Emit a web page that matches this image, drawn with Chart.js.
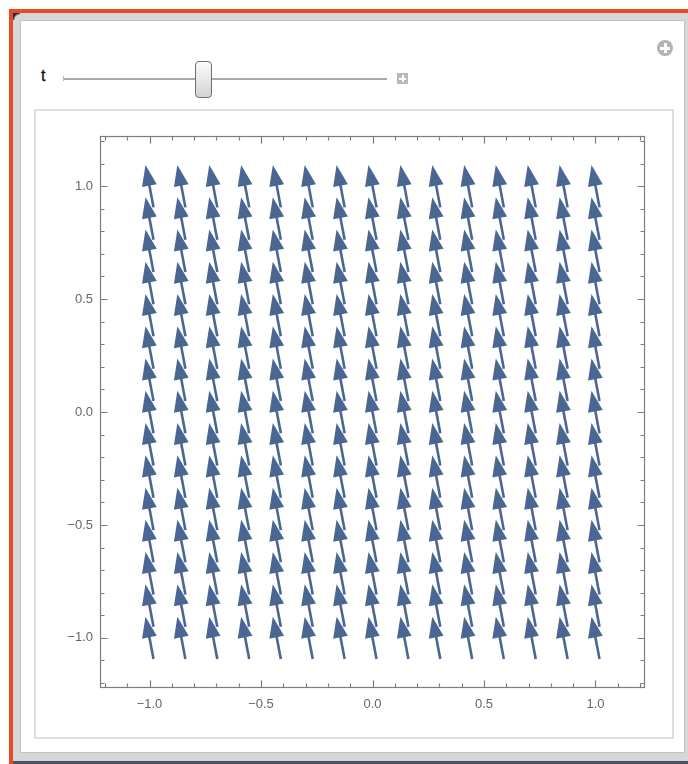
<!DOCTYPE html>
<html>
<head>
<meta charset="utf-8">
<script src="https://cdn.jsdelivr.net/npm/chart.js@4/dist/chart.umd.min.js"></script>
<style>
html,body{margin:0;padding:0;background:#fff;width:688px;height:764px;overflow:hidden;position:relative;font-family:'Liberation Sans',Arial,sans-serif}
.abs{position:absolute;box-sizing:border-box}
#orange{left:9px;top:9px;width:679px;height:755px;background:#e64a26}
#frame{left:13px;top:13px;width:675px;height:748px;background:#d7d7d7}
#darkb{left:13px;top:761px;width:675px;height:3px;background:#4d5260}
#corner{left:13px;top:13px;width:7px;height:7px;background:radial-gradient(circle at 100% 100%, rgba(0,0,0,0) 5px, #1d2b4c 7px)}
#content{left:20px;top:20px;width:665px;height:733px;background:#fff;border:1.5px solid #c3c3c3}
#panel{left:34px;top:109px;width:640px;height:630px;border:2px solid #dedede;background:#fff}
#tlabel{left:41px;top:66px;font-size:16px;color:#111;line-height:20px;-webkit-text-stroke:0.3px #111}
#track{left:63px;top:78px;width:324px;height:2px;background:#a9a9a9}
#capL{left:63px;top:76px;width:1px;height:5px;background:#b8b8b8}
#thumb{left:195px;top:61px;width:17px;height:37px;border:1.3px solid #6f6f6f;border-radius:4px;background:linear-gradient(#fbfbfb,#e6e6e6 55%,#d2d2d2)}
#plusbox{left:397px;top:73px;width:11px;height:11px;background:#b9b9b9}
#circ{left:657px;top:40px;width:16px;height:16px;border-radius:50%;background:#b3b3b3}
.pl{position:absolute;background:#fff}
#cv{position:absolute;left:35px;top:110px}
</style>
</head>
<body>
<div id="orange" class="abs"></div>
<div id="frame" class="abs"></div>
<div id="darkb" class="abs"></div>
<div id="corner" class="abs"></div>
<div id="content" class="abs"></div>
<div id="panel" class="abs"></div>
<div id="tlabel" class="abs">t</div>
<div id="track" class="abs"></div>
<div id="capL" class="abs"></div>
<div id="thumb" class="abs"></div>
<div id="plusbox" class="abs"><div class="pl" style="left:2px;top:4.5px;width:7px;height:2px"></div><div class="pl" style="left:4.5px;top:2px;width:2px;height:7px"></div></div>
<div id="circ" class="abs"><div class="pl" style="left:3px;top:6.5px;width:10px;height:3px"></div><div class="pl" style="left:6.5px;top:3px;width:3px;height:10px"></div></div>
<canvas id="cv" width="638" height="628" style="width:638px;height:628px"></canvas>
<script>
// ---- data ----
const gridX = [-1, -0.857, -0.714, -0.571, -0.429, -0.286, -0.143, 0, 0.143, 0.286, 0.429, 0.571, 0.714, 0.857, 1];
const gridY = [-1, -0.857, -0.714, -0.571, -0.429, -0.286, -0.143, 0, 0.143, 0.286, 0.429, 0.571, 0.714, 0.857, 1];
const vectorU = -0.036;   // arrow x-component (plot units)
const vectorV = 0.188;    // arrow y-component (plot units)
const majorTicks = [-1, -0.5, 0, 0.5, 1];
const minorTicks = [-1.2, -1.1, -0.9, -0.8, -0.7, -0.6, -0.4, -0.3, -0.2, -0.1, 0.1, 0.2, 0.3, 0.4, 0.6, 0.7, 0.8, 0.9, 1.1, 1.2];
const axisMin = -1.222, axisMax = 1.222;

const points = [];
gridY.forEach(y => gridX.forEach(x => points.push({x: x, y: y, u: vectorU, v: vectorV})));

const ARROW = '#4a6794';
const FRAME = '#7d7d7d';

const arrowPlugin = {
  id: 'arrows',
  afterDatasetsDraw(chart) {
    const ctx = chart.ctx, xs = chart.scales.x, ys = chart.scales.y;
    ctx.save();
    ctx.fillStyle = ARROW; ctx.strokeStyle = ARROW; ctx.lineCap = 'butt';
    chart.data.datasets[0].data.forEach(p => {
      const tx = xs.getPixelForValue(p.x - p.u / 2), ty = ys.getPixelForValue(p.y - p.v / 2);
      const hx = xs.getPixelForValue(p.x + p.u / 2), hy = ys.getPixelForValue(p.y + p.v / 2);
      const dx = hx - tx, dy = hy - ty, len = Math.hypot(dx, dy);
      const ux = dx / len, uy = dy / len, nx = -uy, ny = ux;
      const L = 21, W = 7.5;
      const bx = hx - ux * L, by = hy - uy * L;
      ctx.beginPath(); ctx.moveTo(tx, ty); ctx.lineTo(bx + ux * 3, by + uy * 3);
      ctx.lineWidth = 2.6; ctx.stroke();
      ctx.beginPath(); ctx.moveTo(hx, hy);
      ctx.lineTo(bx + nx * W, by + ny * W); ctx.lineTo(bx - nx * W, by - ny * W);
      ctx.closePath(); ctx.fill();
    });
    ctx.restore();
  },
  afterDraw(chart) {
    const ctx = chart.ctx, xs = chart.scales.x, ys = chart.scales.y, a = chart.chartArea;
    const l = Math.round(a.left) + 0.5, r = Math.round(a.right) - 0.5, t = Math.round(a.top) + 0.5, b = Math.round(a.bottom) - 0.5;
    ctx.save();
    ctx.strokeStyle = FRAME; ctx.lineWidth = 1.2;
    ctx.strokeRect(l, t, r - l, b - t);
    const tick = (vals, len) => vals.forEach(v => {
      const px = Math.round(xs.getPixelForValue(v)) + 0.5;
      const py = Math.round(ys.getPixelForValue(v)) + 0.5;
      ctx.beginPath();
      ctx.moveTo(px, b); ctx.lineTo(px, b - len);
      ctx.moveTo(px, t); ctx.lineTo(px, t + len);
      ctx.moveTo(l, py); ctx.lineTo(l + len, py);
      ctx.moveTo(r, py); ctx.lineTo(r - len, py);
      ctx.stroke();
    });
    tick(majorTicks, 7);
    tick(minorTicks, 4);
    ctx.restore();
  }
};

const fmt = v => (v < 0 ? '\u2212' : '') + Math.abs(v).toFixed(1);
const tickFont = {family: "'Liberation Sans', Arial, sans-serif", size: 13};

new Chart(document.getElementById('cv'), {
  type: 'scatter',
  data: {datasets: [{data: points, pointRadius: 0, pointHoverRadius: 0, showLine: false}]},
  options: {
    responsive: false, animation: false, events: [],
    layout: {padding: {left: 0, top: 26, right: 28, bottom: 8}},
    plugins: {legend: {display: false}, tooltip: {enabled: false}},
    scales: {
      x: {
        type: 'linear', min: axisMin, max: axisMax,
        grid: {display: false, drawTicks: false}, border: {display: false},
        afterBuildTicks: s => { s.ticks = majorTicks.map(v => ({value: v})); },
        afterFit: s => { s.height = 42; },
        ticks: {callback: fmt, color: '#666', font: tickFont, padding: 9, maxRotation: 0}
      },
      y: {
        type: 'linear', min: axisMin, max: axisMax,
        grid: {display: false, drawTicks: false}, border: {display: false},
        afterBuildTicks: s => { s.ticks = majorTicks.map(v => ({value: v})); },
        afterFit: s => { s.width = 65; },
        ticks: {callback: fmt, color: '#666', font: tickFont, padding: 7}
      }
    }
  },
  plugins: [arrowPlugin]
});
</script>
</body>
</html>
